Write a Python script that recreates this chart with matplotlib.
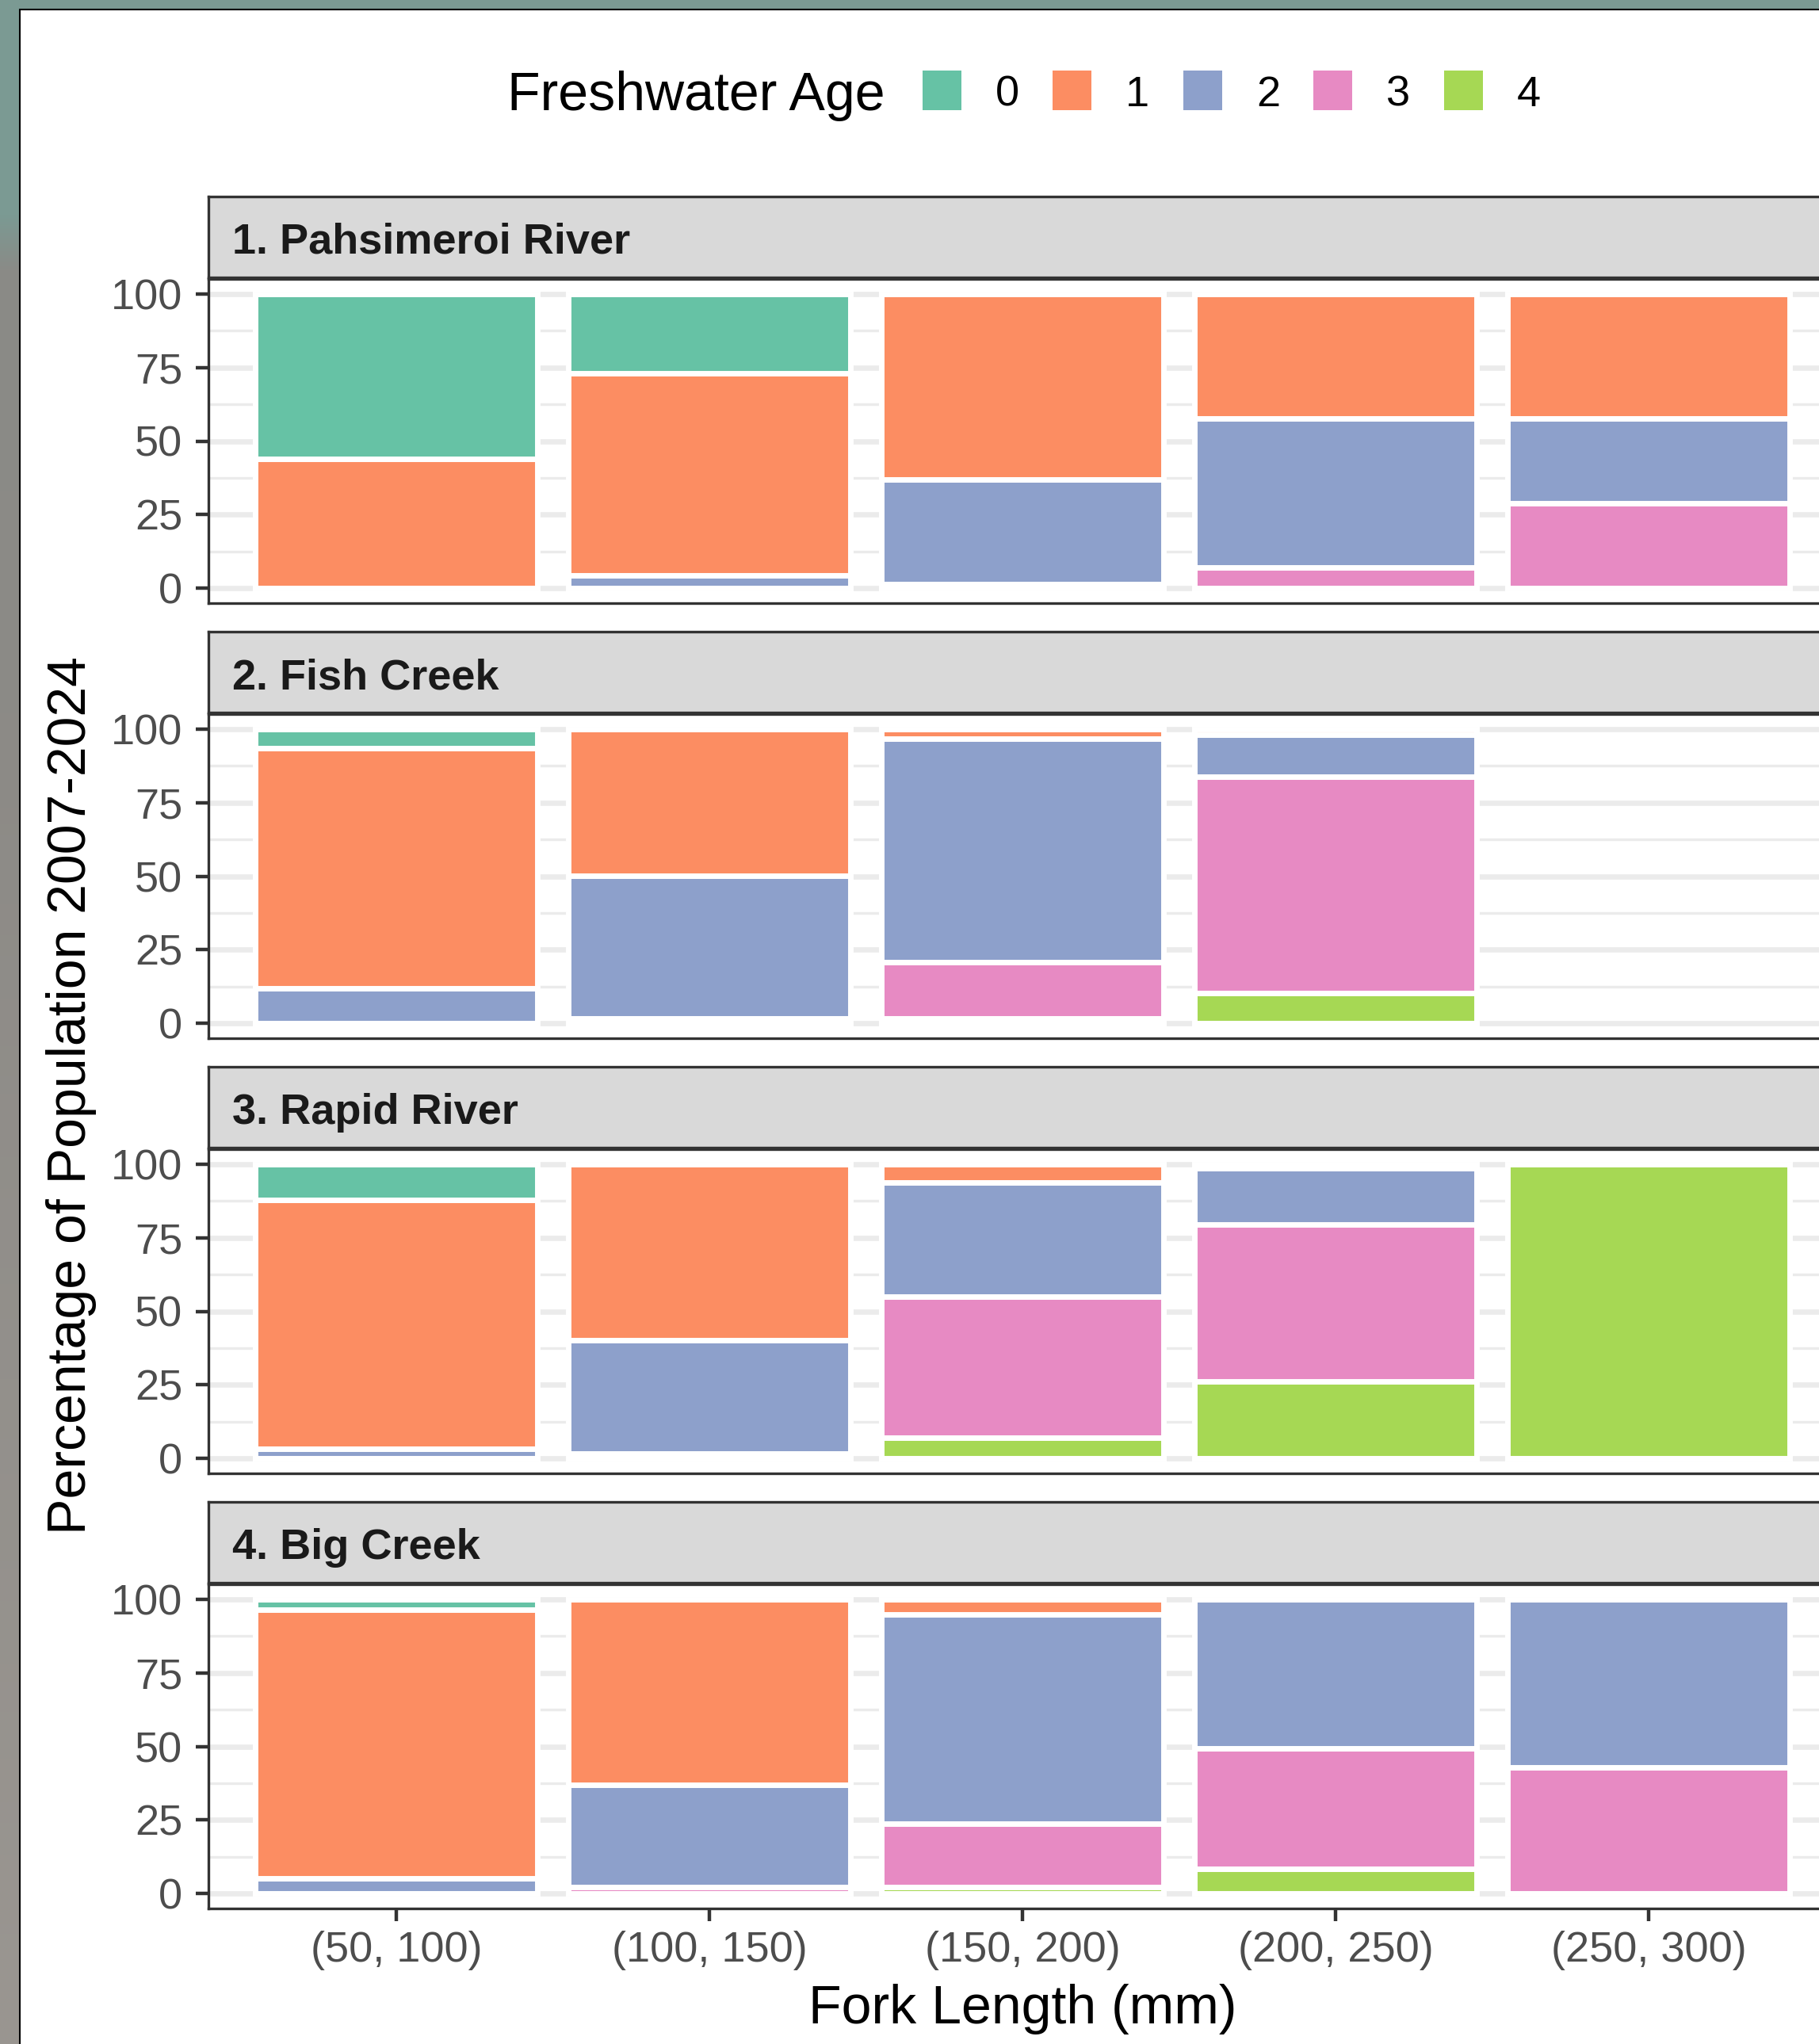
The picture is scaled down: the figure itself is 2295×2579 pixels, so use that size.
import matplotlib
matplotlib.use("Agg")
import matplotlib.pyplot as plt
import numpy as np
from matplotlib.patches import Rectangle
from matplotlib.ticker import FixedLocator

plt.rcParams['font.family'] = ['Liberation Sans', 'DejaVu Sans']

W, H = 2295, 2579
DPI = 100

# ---- data -------------------------------------------------------------
rivers = ["1. Pahsimeroi River", "2. Fish Creek", "3. Rapid River", "4. Big Creek"]
length_bins = ["(50, 100)", "(100, 150)", "(150, 200)", "(200, 250)", "(250, 300)"]
ages = ["0", "1", "2", "3", "4"]
age_colors = ["#66C2A5", "#FC8D62", "#8DA0CB", "#E78AC3", "#A6D854"]
y_ticks = [0, 25, 50, 75, 100]

# percent of fish at each freshwater age (columns 0..4) per length bin (rows)
pahsimeroi = [
    [56.0, 44.0, 0.0, 0.0, 0.0],
    [27.0, 68.5, 4.5, 0.0, 0.0],
    [0.0, 63.0, 35.5, 1.5, 0.0],
    [0.0, 42.3, 50.6, 7.1, 0.0],
    [0.0, 42.3, 28.8, 28.9, 0.0],
]
fish_creek = [
    [6.5, 81.5, 12.0, 0.0, 0.0],
    [0.0, 49.9, 48.5, 1.6, 0.0],
    [0.0, 3.4, 75.9, 19.0, 1.7],
    [0.0, 2.0, 14.3, 73.4, 10.3],
    [0.0, 0.0, 0.0, 0.0, 0.0],
]
rapid_river = [
    [12.2, 84.5, 3.3, 0.0, 0.0],
    [0.0, 59.9, 38.4, 1.7, 0.0],
    [0.0, 6.4, 38.6, 48.0, 7.0],
    [0.0, 1.5, 19.0, 53.3, 26.2],
    [0.0, 0.0, 0.0, 0.0, 100.0],
]
big_creek = [
    [3.5, 91.3, 5.2, 0.0, 0.0],
    [0.0, 63.0, 34.8, 2.2, 0.0],
    [0.0, 5.3, 70.9, 21.6, 2.2],
    [0.0, 0.0, 50.8, 40.7, 8.5],
    [0.0, 0.0, 57.2, 42.8, 0.0],
]
river_tables = [pahsimeroi, fish_creek, rapid_river, big_creek]

# ---- helpers (pixel -> figure fraction) -------------------------------
def fx(px):
    return px / W

def fy(py):
    return 1 - py / H

fig = plt.figure(figsize=(W / DPI, H / DPI), dpi=DPI, facecolor="#7B9A93")

# backdrop behind the card
bg = fig.add_axes([0, 0, 1, 1], zorder=-20)
rows = np.arange(H)
stop_y = [0, 270, 340, 900, H]
stop_c = np.array([[0x7B, 0x9A, 0x93], [0x7B, 0x9A, 0x93], [0x8A, 0x8B, 0x87],
                   [0x8C, 0x8A, 0x86], [0x9A, 0x96, 0x91]]) / 255.0
grad = np.stack([np.interp(rows, stop_y, stop_c[:, k]) for k in range(3)], axis=-1)
bg.imshow(grad[:, None, :], aspect='auto', extent=[0, 1, 0, 1])
bg.axis('off')

# white card
card = Rectangle((fx(25), -0.05), 1.2, fy(12) + 0.05, transform=fig.transFigure,
                 facecolor='white', edgecolor='black', linewidth=1.5, zorder=-10)
fig.patches.append(card)

PANEL_L, PANEL_R = 263, 2317
x = np.arange(len(length_bins))

for i, (name, table) in enumerate(zip(rivers, river_tables)):
    off = 549 * i
    strip_top, strip_bot = 248 + off, 349.5 + off
    pan_top, pan_bot = 352 + off, 761 + off

    ax = fig.add_axes([fx(PANEL_L), fy(pan_bot), fx(PANEL_R) - fx(PANEL_L),
                       (pan_bot - pan_top) / H])
    ax.set_facecolor('white')
    ax.set_xlim(-0.6, len(length_bins) - 0.4)
    ax.set_ylim(-5, 105)

    vals = np.array(table, dtype=float)
    bottoms = np.zeros(len(length_bins))
    for a in reversed(range(len(ages))):
        h = vals[:, a]
        m = h > 0
        if m.any():
            ax.bar(x[m], h[m], bottom=bottoms[m], width=0.9, color=age_colors[a],
                   edgecolor='white', linewidth=5.0, zorder=3)
        bottoms += h

    ax.yaxis.set_major_locator(FixedLocator(y_ticks))
    ax.yaxis.set_minor_locator(FixedLocator([12.5, 37.5, 62.5, 87.5]))
    ax.grid(True, axis='y', which='major', color='#EBEBEB', linewidth=4.8, zorder=0)
    ax.grid(True, axis='y', which='minor', color='#EBEBEB', linewidth=2.4, zorder=0)
    ax.set_axisbelow(True)

    ax.set_yticklabels([str(t) for t in y_ticks])
    ax.tick_params(axis='y', which='major', length=11.5, width=3.2, color='#333333',
                   labelsize=39, labelcolor='#4D4D4D', pad=12)
    ax.tick_params(axis='y', which='minor', length=0)

    ax.set_xticks(x)
    if i == len(rivers) - 1:
        ax.set_xticklabels(length_bins)
        ax.tick_params(axis='x', length=11.5, width=3.2, color='#333333',
                       labelsize=39, labelcolor='#4D4D4D', pad=9)
    else:
        ax.tick_params(axis='x', bottom=False, labelbottom=False)

    for sp in ax.spines.values():
        sp.set_color('#333333')
        sp.set_linewidth(2.4)
        sp.set_zorder(5)

    # facet strip
    sax = fig.add_axes([fx(PANEL_L), fy(strip_bot), fx(PANEL_R) - fx(PANEL_L),
                        (strip_bot - strip_top) / H])
    sax.set_facecolor('#D9D9D9')
    sax.set_xticks([])
    sax.set_yticks([])
    for sp in sax.spines.values():
        sp.set_color('#333333')
        sp.set_linewidth(2.4)
    sax.text((293 - PANEL_L) / (PANEL_R - PANEL_L), 1 - 72 / (strip_bot - strip_top),
             name, transform=sax.transAxes, ha='left', va='baseline',
             fontsize=39, fontweight='bold', color='#1A1A1A')

# axis titles
fig.text(fx(1290), fy(2553), "Fork Length (mm)", ha='center', va='baseline',
         fontsize=49, color='black')
fig.text(fx(90), fy(1382), "Percentage of Population 2007-2024", ha='center',
         va='center', rotation=90, fontsize=49, color='black')

# legend
fig.text(fx(640), fy(139), "Freshwater Age", ha='left', va='baseline',
         fontsize=49, color='black')
key_left = [1164, 1328, 1493, 1657, 1822]
for a, kl in enumerate(key_left):
    fig.patches.append(Rectangle((fx(kl), fy(139)), 49 / W, 50 / H,
                                 transform=fig.transFigure,
                                 facecolor=age_colors[a], edgecolor='none'))
    fig.text(fx(kl + 92), fy(134), ages[a], ha='left', va='baseline',
             fontsize=39, color='black')

fig.savefig("out.png", dpi=DPI, facecolor=fig.get_facecolor())
